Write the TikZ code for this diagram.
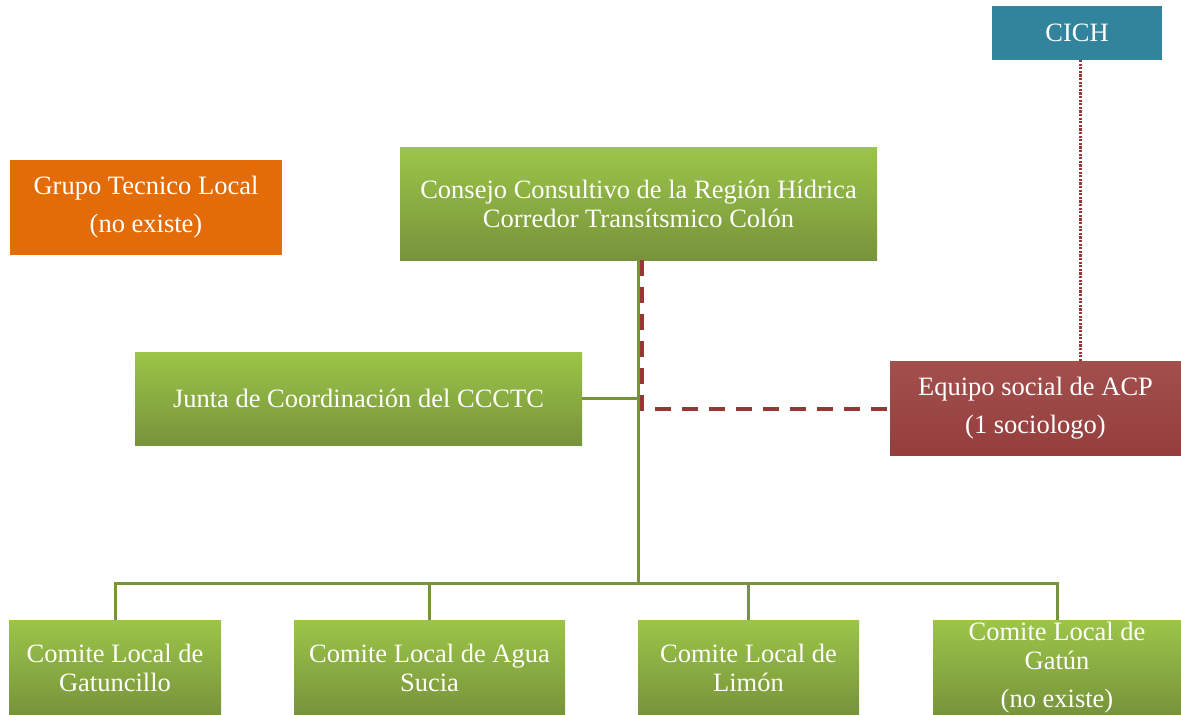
\documentclass[tikz,border=0pt]{standalone}
\usepackage{fontspec}
\setmainfont{Liberation Serif}
\definecolor{gtop}{HTML}{9CC548}
\definecolor{gbot}{HTML}{77933C}
\definecolor{gline}{HTML}{77933C}
\definecolor{rtop}{HTML}{A24F4D}
\definecolor{rbot}{HTML}{953F3D}
\definecolor{rline}{HTML}{953735}
\definecolor{orng}{HTML}{E36C09}
\definecolor{teal}{HTML}{31849B}
\tikzset{
  box/.style={inner sep=0pt, outer sep=0pt, text=white, align=center,
    font=\fontsize{26.5}{29}\selectfont},
  greenbox/.style={box, top color=gtop, bottom color=gbot},
  redbox/.style={box, top color=rtop, bottom color=rbot},
  conn/.style={draw=gline, line width=3pt},
  dashconn/.style={draw=rline, line width=4pt, dash pattern=on 16pt off 11pt},
  dotconn/.style={draw=rline, line width=3pt, dash pattern=on 2.2pt off 1.4pt},
}
\begin{document}
\begin{tikzpicture}[x=1pt,y=-1pt]
\useasboundingbox (0,0) rectangle (1181,715);
\node[box, fill=teal, minimum width=170pt, minimum height=54pt] (cich) at (1077,33) {CICH};
\node[box, fill=orng, minimum width=272pt, minimum height=95pt] (grupo) at (146,207.5) {Grupo Tecnico Local\\[9pt](no existe)};
\node[greenbox, minimum width=477pt, minimum height=113pt] (consejo) at (638.5,203.5) {Consejo Consultivo de la Región Hídrica\\Corredor Transítsmico Colón};
\node[greenbox, minimum width=447pt, minimum height=93pt] (junta) at (358.5,398.5) {Junta de Coordinación del CCCTC};
\node[redbox, minimum width=291pt, minimum height=94pt] (equipo) at (1035.5,408) {Equipo social de ACP\\[9pt](1 sociologo)};
\node[greenbox, minimum width=212pt, minimum height=95pt] (gatuncillo) at (115,667.5) {Comite Local de\\Gatuncillo};
\node[greenbox, minimum width=271pt, minimum height=95pt] (agua) at (429.5,667.5) {Comite Local de Agua\\Sucia};
\node[greenbox, minimum width=221pt, minimum height=95pt] (limon) at (748.5,667.5) {Comite Local de\\Limón};
\node[greenbox, minimum width=248pt, minimum height=95pt] (gatun) at (1057,667.5) {Comite Local de\\Gatún\\[9pt](no existe)};
\coordinate (bus) at (638.5,583);
\coordinate (corner) at (642,409);
\draw[dashconn] ([xshift=3.5pt]consejo.south) -- (corner) -- (corner -| equipo.west);
\draw[conn] (consejo.south) -- (bus);
\draw[conn] (junta.east) -- (junta.east -| consejo.south);
\draw[conn] (bus) -| (gatuncillo.north);
\draw[conn] (bus) -| (agua.north);
\draw[conn] (bus) -| (limon.north);
\draw[conn] (bus) -| (gatun.north);
\draw[dotconn] ([xshift=3pt]cich.south) -- ([xshift=3pt]cich.south |- equipo.north);
\end{tikzpicture}
\end{document}
